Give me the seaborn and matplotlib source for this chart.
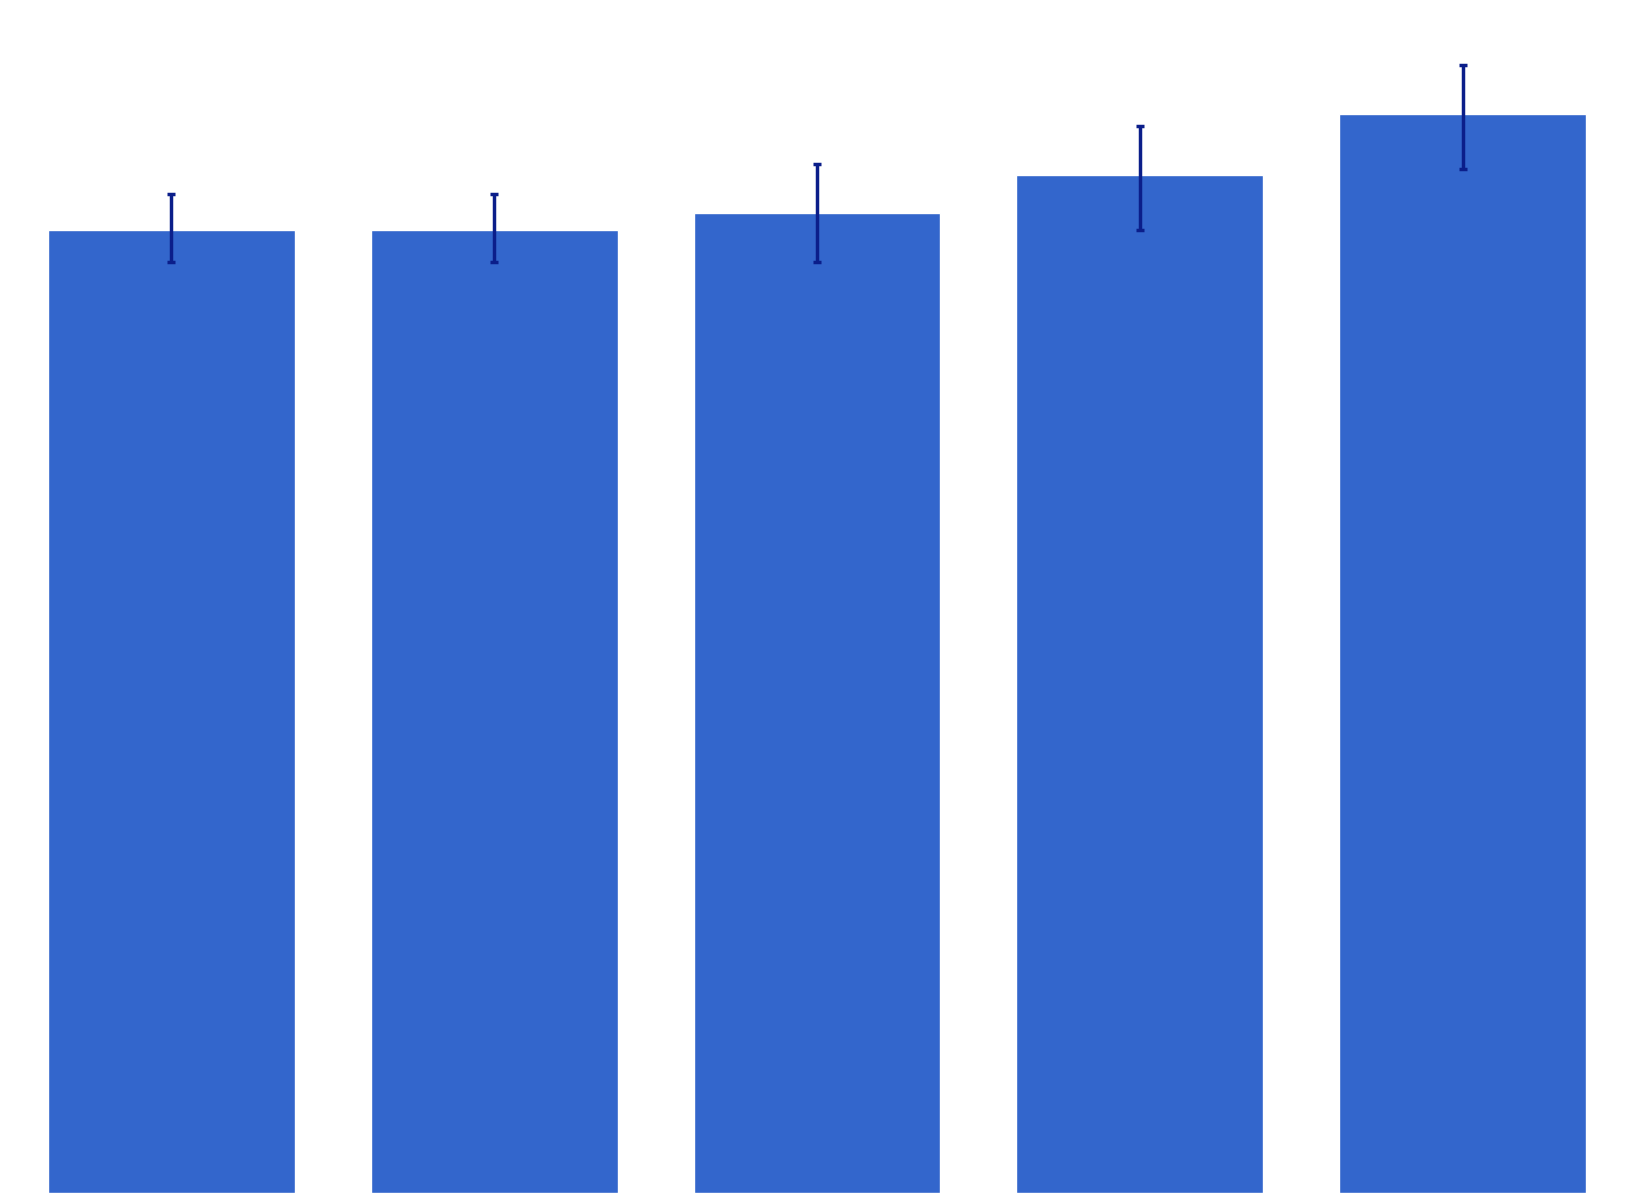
import matplotlib
matplotlib.use("Agg")
import matplotlib.pyplot as plt
import seaborn as sns

# values (arbitrary units)
categories = ["A", "B", "C", "D", "E"]
means = [96.3, 96.3, 98.0, 101.8, 107.9]
err_low = [3.2, 3.2, 4.9, 5.5, 5.5]
err_high = [3.55, 3.55, 4.9, 4.9, 4.9]

sns.set_style("white")

fig = plt.figure(figsize=(16.34, 12.03), dpi=100)
ax = fig.add_axes([10 / 1634, 10 / 1203, 1614 / 1634, 1183 / 1203])

sns.barplot(x=categories, y=means, color="#3366cc", saturation=1,
            width=0.765, ax=ax)
ax.errorbar(x=range(len(categories)), y=means, yerr=[err_low, err_high],
            fmt="none", ecolor="#0b1e8a", elinewidth=2.5, capsize=3,
            capthick=2.5)

ax.set_xlim(-0.5, len(categories) - 0.5)
ax.set_ylim(0, 118.3)
ax.axis("off")

fig.savefig("out.png", dpi=100)
